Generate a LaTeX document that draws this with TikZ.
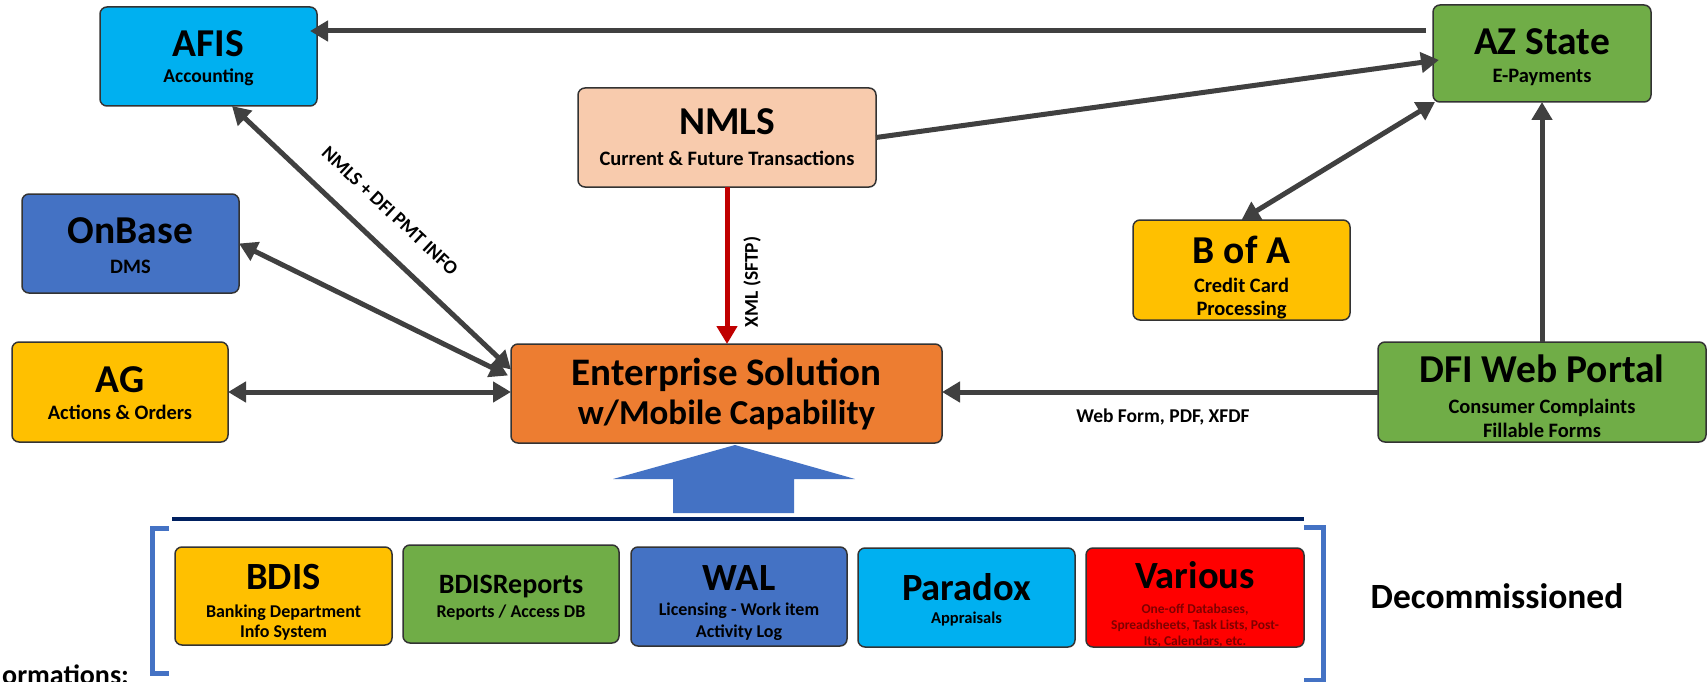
\documentclass[tikz,border=0pt]{standalone}
\usepackage{fontspec}
\setmainfont{Carlito}
\usetikzlibrary{arrows.meta,calc}
\definecolor{cyanbox}{HTML}{00B0F0}
\definecolor{bluebox}{HTML}{4472C4}
\definecolor{goldbox}{HTML}{FFC000}
\definecolor{greenbox}{HTML}{70AD47}
\definecolor{peachbox}{HTML}{F8CBAD}
\definecolor{orangebox}{HTML}{ED7D31}
\definecolor{redbox}{HTML}{FF0000}
\definecolor{arrowgray}{HTML}{404040}
\definecolor{xmlred}{HTML}{C00000}
\definecolor{navyline}{HTML}{002060}
\definecolor{darkredtxt}{HTML}{7F0000}
\begin{document}
\begin{tikzpicture}[x=1pt,y=-1pt,
  box/.style={draw=black!80, line width=1.5pt, rounded corners=7pt, anchor=north west, inner sep=0pt, outer sep=0pt},
  ttl/.style={anchor=base, inner sep=0pt, font=\fontsize{39.5}{41}\selectfont\bfseries},
  bttl/.style={anchor=base, inner sep=0pt, font=\fontsize{38.5}{40}\selectfont\bfseries},
  sub/.style={anchor=base, inner sep=0pt, font=\fontsize{20.5}{22}\selectfont\bfseries},
  lsub/.style={anchor=base, inner sep=0pt, font=\fontsize{18}{20}\selectfont\bfseries},
  vsub/.style={anchor=base, inner sep=0pt, font=\fontsize{13.5}{15}\selectfont\bfseries, text=darkredtxt},
  conn/.style={draw=arrowgray, line width=5pt, -{Triangle[length=18pt,width=20pt]}},
  bconn/.style={draw=arrowgray, line width=5pt, {Triangle[length=18pt,width=20pt]}-{Triangle[length=18pt,width=20pt]}},
  lbl/.style={inner sep=0pt, font=\fontsize{19.5}{21}\selectfont\bfseries},
]
\useasboundingbox[fill=white] (0,0) rectangle (1708,682);

% ---- upper boxes ----
\node[box, fill=cyanbox, minimum width=217pt, minimum height=99pt] (afis) at (100,7) {};
\node[ttl] (afisT) at (208.5,57) {AFIS};
\node[sub, font=\fontsize{19.5}{21}\selectfont\bfseries] (afisS) at (208.5,83) {Accounting};

\node[box, fill=bluebox, minimum width=217pt, minimum height=99pt] (onbase) at (22,194) {};
\node[ttl] (onbaseT) at (130.5,243) {OnBase};
\node[sub] (onbaseS) at (130.5,273) {DMS};

\node[box, fill=goldbox, minimum width=216pt, minimum height=100pt] (ag) at (12,342) {};
\node[ttl] (agT) at (120,392) {AG};
\node[sub] (agS) at (120,419) {Actions \& Orders};

\node[box, fill=peachbox, minimum width=298pt, minimum height=99pt] (nmls) at (578,88) {};
\node[ttl] (nmlsT) at (727,135) {NMLS};
\node[sub] (nmlsS) at (727,165) {Current \& Future Transactions};

\node[box, fill=orangebox, minimum width=431pt, minimum height=99pt] (ent) at (511,344) {};
\node[ttl, font=\fontsize{39}{41}\selectfont\bfseries] (entT) at (726.5,385) {Enterprise Solution};
\node[ttl, font=\fontsize{35}{37}\selectfont\bfseries] (entS) at (726.5,424) {w/Mobile Capability};

\node[box, fill=greenbox, minimum width=218pt, minimum height=97pt] (azs) at (1433,5) {};
\node[ttl] (azsT) at (1542,55) {AZ State};
\node[sub] (azsS) at (1542,83) {E-Payments};

\node[box, fill=goldbox, minimum width=217pt, minimum height=100pt] (bofa) at (1133,220) {};
\node[ttl] (bofaT) at (1241.5,263) {B of A};
\node[sub] (bofaS1) at (1241.5,292) {Credit Card};
\node[sub] (bofaS2) at (1241.5,315) {Processing};

\node[box, fill=greenbox, minimum width=328pt, minimum height=100pt] (dfi) at (1378,342) {};
\node[ttl] (dfiT) at (1542,382) {DFI Web Portal};
\node[sub] (dfiS1) at (1542,413) {Consumer Complaints};
\node[sub] (dfiS2) at (1542,437) {Fillable Forms};

% ---- connectors ----
\draw[conn] ([shift={(-7pt,22.5pt)}]azs.west) -- ([shift={(-7pt,25.5pt)}]afis.east);
\draw[conn] (nmls.east) -- ([shift={(6pt,-6.5pt)}]azs.west);
\draw[bconn] ([xshift=2pt]azs.south west) -- (bofa.north);
\draw[conn] (dfi.north) -- (azs.south);
\draw[conn] (dfi.west) -- (dfi.west -| ent.east);
\draw[draw=xmlred, line width=5pt, -{Triangle[length=18pt,width=20pt]}] (nmls.south) -- (nmls.south |- ent.north);
\draw[bconn] ([xshift=23.5pt]afis.south) -- ([yshift=24pt]ent.west);
\draw[bconn] (onbase.east) -- ([shift={(-3pt,18pt)}]ent.west);
\draw[bconn] (ag.east) -- (ag.east -| ent.west);

\node[lbl, rotate=-43] (lblnmls) at (390,211) {NMLS + DFI PMT INFO};
\node[lbl, rotate=90] (lblxml) at (752,282) {XML (SFTP)};
\node[anchor=base, inner sep=0pt, font=\fontsize{19.5}{21}\selectfont\bfseries] (lblweb) at (1163,422) {Web Form, PDF, XFDF};

% ---- big blue arrow and divider ----
\fill[bluebox] (735,445) -- (855,479) -- (794,479) -- (794,513) -- (673,513) -- (673,479) -- (613,479) -- cycle;
\draw[navyline, line width=4pt] (172,519) -- (1304,519);

% ---- brackets ----
\draw[bluebox, line width=5pt] (169,528) -- (152,528) -- (152,673) -- (169,673);
\draw[bluebox, line width=5pt] (1304,527) -- (1323,527) -- (1323,680) -- (1304,680);

% ---- lower boxes ----
\node[box, fill=goldbox, minimum width=217pt, minimum height=98pt] (bdis) at (175,547) {};
\node[bttl] (bdisT) at (283.5,589) {BDIS};
\node[lsub] (bdisS1) at (283.5,617) {Banking Department};
\node[lsub] (bdisS2) at (283.5,637) {Info System};

\node[box, fill=greenbox, minimum width=216pt, minimum height=98pt] (bdisr) at (403,545) {};
\node[bttl, font=\fontsize{28}{30}\selectfont\bfseries] (bdisrT) at (511,593) {BDISReports};
\node[lsub] (bdisrS) at (511,617) {Reports / Access DB};

\node[box, fill=bluebox, minimum width=216pt, minimum height=99pt] (wal) at (631,547) {};
\node[bttl] (walT) at (739,590) {WAL};
\node[lsub] (walS1) at (739,615) {Licensing - Work item};
\node[lsub] (walS2) at (739,637) {Activity Log};

\node[box, fill=cyanbox, minimum width=217pt, minimum height=99pt] (parad) at (858,548) {};
\node[bttl] (paradT) at (966.5,600) {Paradox};
\node[lsub, font=\fontsize{16.5}{18}\selectfont\bfseries] (paradS) at (966.5,623) {Appraisals};

\node[box, fill=redbox, minimum width=218pt, minimum height=99pt] (various) at (1086,548) {};
\node[bttl] (variousT) at (1195,588) {Various};
\node[vsub] (variousS1) at (1195,613) {One-off Databases,};
\node[vsub] (variousS2) at (1195,629) {Spreadsheets, Task Lists, Post-};
\node[vsub] (variousS3) at (1195,645) {Its, Calendars, etc.};

\node[bttl, font=\fontsize{35.5}{37}\selectfont\bfseries] (decom) at (1497,608) {Decommissioned};
\node[anchor=base west, inner sep=0pt, font=\fontsize{28}{30}\selectfont\bfseries] (transf) at (2,684) {ormations:};
\end{tikzpicture}
\end{document}
